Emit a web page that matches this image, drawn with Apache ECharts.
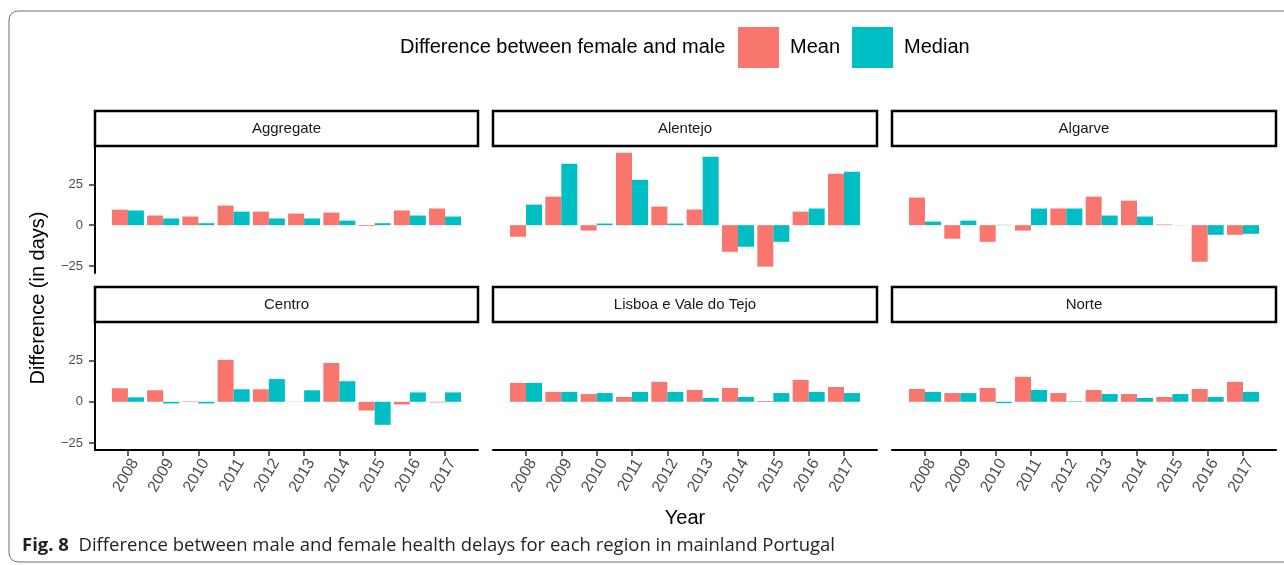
<!DOCTYPE html>
<html>
<head>
<meta charset="utf-8">
<style>
  html, body { margin: 0; padding: 0; background: #fff; }
  #chart { width: 1284px; height: 565px; }
</style>
<script src="https://cdn.jsdelivr.net/npm/echarts@6/dist/echarts.min.js"></script>
</head>
<body>
<div id="chart"></div>
<script>
// years on the x axis and the facet names
const years = ['2008', '2009', '2010', '2011', '2012', '2013', '2014', '2015', '2016', '2017'];
const regions = ['Aggregate', 'Alentejo', 'Algarve', 'Centro', 'Lisboa e Vale do Tejo', 'Norte'];
const yTicks = [-25, 0, 25];

// difference female - male, in days
const meanAggregate = [9.5, 5.9, 5.3, 12.0, 8.3, 7.1, 7.7, -0.5, 9.0, 10.2];
const medianAggregate = [9.0, 4.1, 1.2, 8.3, 4.1, 4.1, 2.8, 1.2, 5.9, 5.3];
const meanAlentejo = [-7.1, 17.5, -3.3, 44.3, 11.4, 9.6, -16.3, -25.4, 8.3, 31.5];
const medianAlentejo = [12.6, 37.6, 1.0, 27.8, 1.0, 41.9, -13.2, -10.2, 10.2, 32.7];
const meanAlgarve = [16.9, -8.3, -10.2, -3.3, 10.2, 17.5, 15.0, 0.4, -22.4, -5.9];
const medianAlgarve = [2.2, 2.8, 0.2, 10.2, 10.2, 5.9, 5.3, 0.1, -5.9, -5.3];
const meanCentro = [8.2, 7.0, 0.3, 25.5, 7.6, 0.1, 23.6, -5.3, -1.6, -0.4];
const medianCentro = [2.7, -1.0, -1.0, 7.6, 13.8, 7.0, 12.5, -14.0, 5.7, 5.7];
const meanLisboa = [11.5, 6.0, 4.7, 2.9, 12.1, 7.2, 8.4, 0.5, 13.3, 9.0];
const medianLisboa = [11.5, 6.0, 5.3, 6.0, 6.0, 2.3, 2.9, 5.3, 6.0, 5.3];
const meanNorte = [7.8, 5.3, 8.4, 15.2, 5.3, 7.2, 4.7, 2.9, 7.8, 12.1];
const medianNorte = [6.0, 5.3, -0.8, 7.2, 0.3, 4.7, 2.3, 4.7, 2.9, 6.0];

const meanByRegion = [meanAggregate, meanAlentejo, meanAlgarve, meanCentro, meanLisboa, meanNorte];
const medianByRegion = [medianAggregate, medianAlentejo, medianAlgarve, medianCentro, medianLisboa, medianNorte];

const FONT = '"Liberation Sans", Arial, sans-serif';
const MEAN_COLOR = '#F8766D';
const MEDIAN_COLOR = '#00BFC4';

// panel layout (facet grid 2 x 3)
const colLeft = [95, 493, 892];
const colWidth = [383, 384, 384];
const rowTop = [146, 322];
const rowHeight = [127, 128];
const stripHeight = 35;

const grids = [];
const xAxes = [];
const yAxes = [];
const series = [];
const graphics = [];

// outer frame of the figure
graphics.push({
    type: 'rect'
    , shape: {x: 9, y: 11, width: 1300, height: 551, r: 9}
    , style: {fill: 'none', stroke: '#6e6e6e', lineWidth: 1}
    , silent: true
});

regions.forEach(function (region, k) {
    const r = Math.floor(k / 3);
    const c = k % 3;
    const bottomRow = r === 1;
    const leftCol = c === 0;

    grids.push({
        left: colLeft[c]
        , top: rowTop[r]
        , width: colWidth[c]
        , height: rowHeight[r]
        , containLabel: false
    });

    xAxes.push({
        gridIndex: k
        , type: 'value'
        , min: -0.934
        , max: 9.934
        , splitLine: {show: false}
        , axisLine: {show: bottomRow, onZero: false, lineStyle: {color: '#000', width: 2}}
        , axisTick: {
            show: bottomRow
            , customValues: years.map(function (y, i) { return i; })
            , length: 6
            , lineStyle: {color: '#333', width: 1.5}
        }
        , axisLabel: {
            show: bottomRow
            , customValues: years.map(function (y, i) { return i; })
            , formatter: function (v) { return years[Math.round(v)]; }
            , rotate: 60
            , align: 'right'
            , verticalAlign: 'top'
            , margin: 6
            , color: '#4d4d4d'
            , fontSize: 16
            , fontFamily: FONT
        }
    });

    yAxes.push({
        gridIndex: k
        , type: 'value'
        , min: -29.3
        , max: 48.5
        , splitLine: {show: false}
        , axisLine: {show: leftCol, onZero: false, lineStyle: {color: '#000', width: 2}}
        , axisTick: {
            show: leftCol
            , customValues: yTicks
            , length: 6
            , lineStyle: {color: '#333', width: 1.5}
        }
        , axisLabel: {
            show: leftCol
            , customValues: yTicks
            , formatter: function (v) { return v < 0 ? '\u2212' + Math.abs(v) : String(v); }
            , margin: 12
            , color: '#4d4d4d'
            , fontSize: 13
            , fontFamily: FONT
        }
    });

    series.push({
        name: 'Mean'
        , type: 'bar'
        , xAxisIndex: k
        , yAxisIndex: k
        , barWidth: 16
        , barGap: '0%'
        , itemStyle: {color: MEAN_COLOR}
        , data: meanByRegion[k].map(function (v, i) { return [i, v]; })
    });
    series.push({
        name: 'Median'
        , type: 'bar'
        , xAxisIndex: k
        , yAxisIndex: k
        , barWidth: 16
        , barGap: '0%'
        , itemStyle: {color: MEDIAN_COLOR}
        , data: medianByRegion[k].map(function (v, i) { return [i, v]; })
    });

    // facet strip
    graphics.push({
        type: 'rect'
        , shape: {x: colLeft[c], y: rowTop[r] - stripHeight, width: colWidth[c], height: stripHeight}
        , style: {fill: '#fff', stroke: '#000', lineWidth: 2.5}
        , silent: true
    });
    graphics.push({
        type: 'text'
        , x: colLeft[c] + colWidth[c] / 2
        , y: rowTop[r] - stripHeight / 2
        , style: {
            text: region
            , fill: '#1a1a1a'
            , font: '15px ' + FONT
            , align: 'center'
            , verticalAlign: 'middle'
            , textAlign: 'center'
            , textVerticalAlign: 'middle'
        }
        , silent: true
    });
});

// legend title, axis titles, caption
graphics.push({
    type: 'text'
    , x: 400
    , y: 47
    , style: {
        text: 'Difference between female and male'
        , fill: '#000'
        , font: '20px ' + FONT
        , align: 'left'
        , verticalAlign: 'middle'
        , textAlign: 'left'
        , textVerticalAlign: 'middle'
    }
});
graphics.push({
    type: 'text'
    , x: 38
    , y: 298
    , rotation: Math.PI / 2
    , style: {
        text: 'Difference (in days)'
        , fill: '#000'
        , font: '20px ' + FONT
        , align: 'center'
        , verticalAlign: 'middle'
        , textAlign: 'center'
        , textVerticalAlign: 'middle'
    }
});
graphics.push({
    type: 'text'
    , x: 685
    , y: 518
    , style: {
        text: 'Year'
        , fill: '#000'
        , font: '20px ' + FONT
        , align: 'center'
        , verticalAlign: 'middle'
        , textAlign: 'center'
        , textVerticalAlign: 'middle'
    }
});
graphics.push({
    type: 'text'
    , x: 22
    , y: 546
    , style: {
        text: '{b|Fig. 8}  Difference between male and female health delays for each region in mainland Portugal'
        , fill: '#231f20'
        , font: '18.5px "Open Sans", sans-serif'
        , align: 'left'
        , verticalAlign: 'middle'
        , textAlign: 'left'
        , textVerticalAlign: 'middle'
        , rich: {
            b: {fontWeight: 'bold', fontSize: 18.5, fontFamily: '"Open Sans", sans-serif', fill: '#231f20'}
        }
    }
});

const chart = echarts.init(document.getElementById('chart'), null, {renderer: 'canvas'});
chart.setOption({
    animation: false
    , backgroundColor: '#fff'
    , legend: {
        data: ['Mean', 'Median']
        , left: 738
        , top: 27
        , orient: 'horizontal'
        , icon: 'rect'
        , itemWidth: 41
        , itemHeight: 41
        , itemGap: 12
        , padding: 0
        , selectedMode: false
        , textStyle: {fontSize: 20, fontFamily: FONT, color: '#000', padding: [0, 0, 0, 6]}
    }
    , grid: grids
    , xAxis: xAxes
    , yAxis: yAxes
    , series: series
    , graphic: graphics
});
</script>
</body>
</html>
